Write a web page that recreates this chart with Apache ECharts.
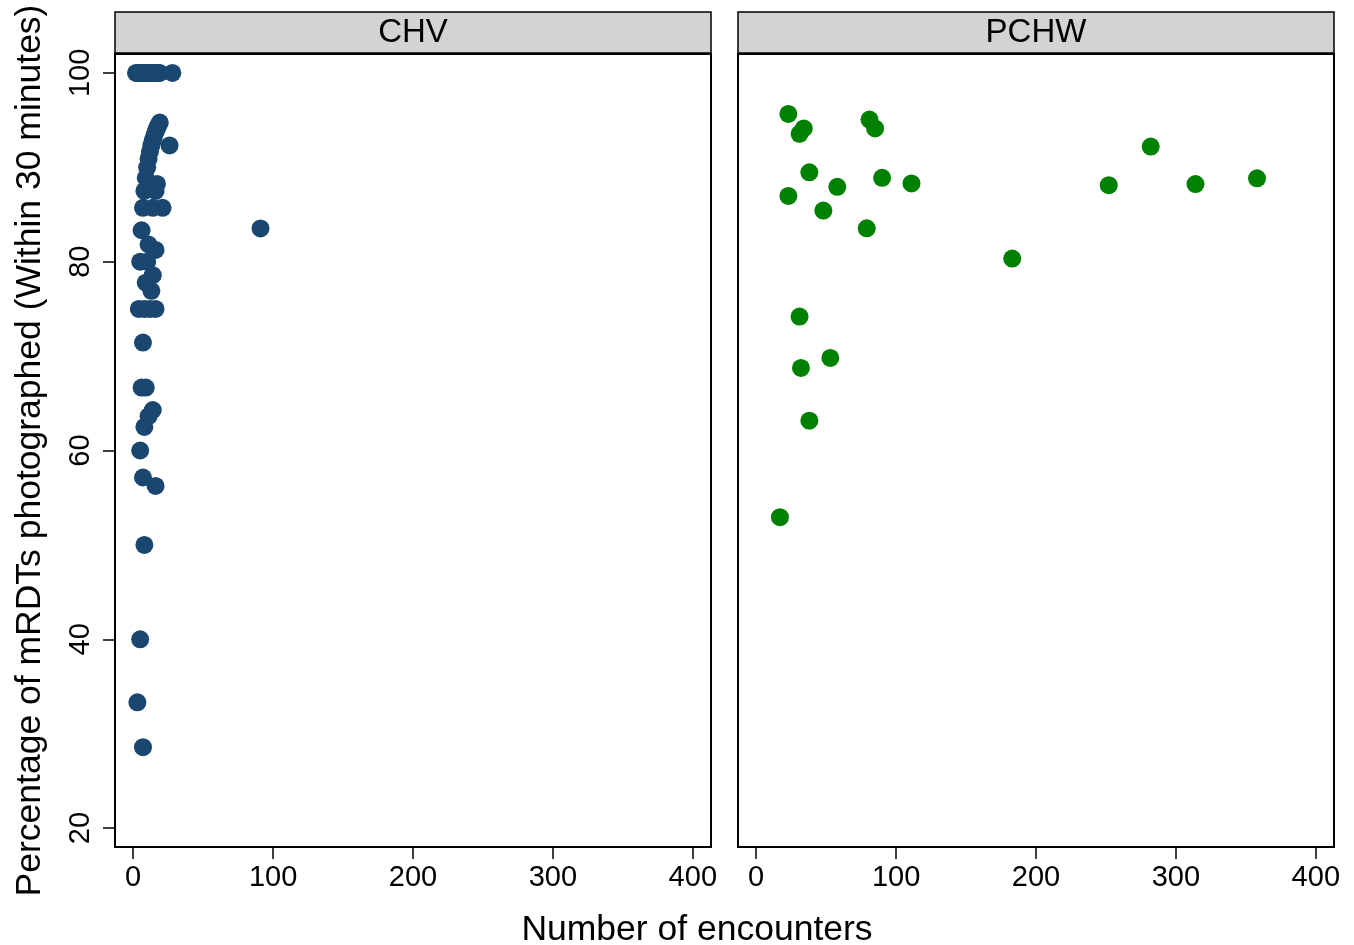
<!DOCTYPE html>
<html lang="en">
<head>
    <meta charset="UTF-8">
    <title>mRDTs photographed by number of encounters</title>
    <style>
        html, body {
            margin: 0;
            padding: 0;
            background: #fff;
        }
        #main {
            width: 1354px;
            height: 945px;
        }
    </style>
    <script type="text/javascript" src="https://cdn.jsdelivr.net/npm/echarts@6.0.0/dist/echarts.min.js"></script>
</head>
<body>
<div id="main"></div>
<script type="text/javascript">
    // panel titles
    var panels = ["CHV", "PCHW"];
    var xTicks = [0, 100, 200, 300, 400];
    var yTicks = [20, 40, 60, 80, 100];

    // CHV: number of encounters / % photographed
    var chvX = [2, 3, 4, 5, 6, 7, 8, 9, 10, 11, 12, 13, 14, 15, 16, 17, 18, 19, 28,
        19, 18, 17, 16, 15, 14, 13, 12, 11, 10, 9, 8, 7,
        26, 17, 16, 14, 21,
        6, 11, 16, 5, 10, 14, 9, 13, 4, 8, 12, 16,
        7, 6, 9, 14, 11, 8, 5, 7, 16, 8, 5, 3, 7, 91];
    var chvY = [100, 100, 100, 100, 100, 100, 100, 100, 100, 100, 100, 100, 100, 100, 100, 100, 100, 100, 100,
        94.74, 94.44, 94.12, 93.75, 93.33, 92.86, 92.31, 91.67, 90.91, 90, 88.89, 87.5, 85.71,
        92.31, 88.24, 87.5, 85.71, 85.71,
        83.33, 81.82, 81.25, 80, 80, 78.57, 77.78, 76.92, 75, 75, 75, 75,
        71.43, 66.67, 66.67, 64.29, 63.64, 62.5, 60, 57.14, 56.25, 50, 40, 33.33, 28.57, 83.52];

    // PCHW
    var pchwX = [23, 34, 31, 81, 85, 38, 23, 58, 48, 90, 111, 79, 183, 252, 282, 314, 358, 31, 53, 32, 38, 17];
    var pchwY = [95.65, 94.12, 93.55, 95.06, 94.12, 89.47, 86.96, 87.93, 85.42, 88.89, 88.29, 83.54, 80.33,
        88.10, 92.20, 88.22, 88.83, 74.19, 69.81, 68.75, 63.16, 52.94];

    function pairs(xs, ys) {
        var out = [];
        for (var i = 0; i < xs.length; i++) {
            out.push([xs[i], ys[i]]);
        }
        return out;
    }

    var font = "Liberation Sans, Helvetica, Arial, sans-serif";
    var grids = [
        {left: 115, top: 54, width: 596, height: 793},
        {left: 738, top: 54, width: 596, height: 793}
    ];

    function xAxis(i) {
        return {
            type: 'value', gridIndex: i, min: -13, max: 413,
            axisLine: {show: true, onZero: false, lineStyle: {color: '#000', width: 2}},
            axisTick: {show: true, length: 12, customValues: xTicks, lineStyle: {color: '#000', width: 1.5}},
            axisLabel: {customValues: xTicks, color: '#000', fontSize: 29, fontFamily: font, margin: 16},
            splitLine: {show: false}
        };
    }

    function yAxis(i) {
        var ax = {
            type: 'value', gridIndex: i, min: 18, max: 102,
            axisLine: {show: true, onZero: false, lineStyle: {color: '#000', width: 2}},
            axisTick: {show: i === 0, length: 12, customValues: yTicks, lineStyle: {color: '#000', width: 1.5}},
            axisLabel: {show: i === 0, customValues: yTicks, rotate: 90, color: '#000', fontSize: 29, fontFamily: font, margin: 20},
            splitLine: {show: false}
        };
        if (i === 0) {
            ax.name = 'Percentage of mRDTs photographed (Within 30 minutes)';
            ax.nameLocation = 'middle';
            ax.nameRotate = 90;
            ax.nameGap = 67;
            ax.nameTextStyle = {color: '#000', fontSize: 35.5, fontFamily: font};
        }
        return ax;
    }

    var graphics = [];
    for (var p = 0; p < panels.length; p++) {
        graphics.push({
            type: 'rect',
            shape: {x: grids[p].left, y: 12, width: grids[p].width, height: 41},
            style: {fill: '#d3d3d3', stroke: '#000', lineWidth: 1.5}
        });
        graphics.push({
            type: 'text',
            x: grids[p].left + grids[p].width / 2, y: 33,
            style: {text: panels[p], fill: '#000', font: '33px ' + font, textAlign: 'center', textVerticalAlign: 'middle'}
        });
    }
    graphics.push({
        type: 'text', x: 697, y: 930,
        style: {text: 'Number of encounters', fill: '#000', font: '35.5px ' + font, textAlign: 'center', textVerticalAlign: 'middle'}
    });

    var chart = echarts.init(document.getElementById('main'));
    var option = {
        animation: false,
        backgroundColor: '#fff',
        grid: grids.map(function (g) {
            return Object.assign({show: true, borderColor: '#000', borderWidth: 2, backgroundColor: '#fff'}, g);
        }),
        xAxis: [xAxis(0), xAxis(1)],
        yAxis: [yAxis(0), yAxis(1)],
        graphic: graphics,
        series: [
            {
                name: panels[0], type: 'scatter', xAxisIndex: 0, yAxisIndex: 0,
                symbolSize: 18, itemStyle: {color: '#1a476f', opacity: 1},
                data: pairs(chvX, chvY)
            },
            {
                name: panels[1], type: 'scatter', xAxisIndex: 1, yAxisIndex: 1,
                symbolSize: 18, itemStyle: {color: '#008000', opacity: 1},
                data: pairs(pchwX, pchwY)
            }
        ]
    };
    chart.setOption(option);
</script>
</body>
</html>
